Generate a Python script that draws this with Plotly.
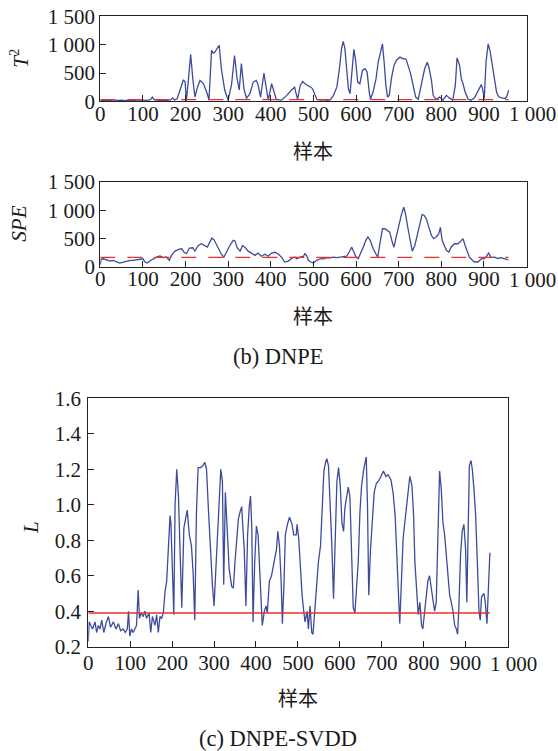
import plotly.graph_objects as go

# ---------------- data ----------------
t2_x = [0, 10, 20, 30, 40, 50, 60, 70, 80, 90, 100, 110, 118, 122, 126, 135, 145, 155, 165, 170, 174, 180,
        187, 195, 199, 202, 207, 212, 217, 222, 228, 234, 242, 251, 255, 258, 261, 265, 269, 273, 277, 279,
        284, 292, 300, 308, 315, 321, 326, 331, 337, 343, 351, 359, 366, 370, 376, 384, 388, 394, 402, 407,
        413, 425, 437, 448, 456, 459, 463, 469, 475, 480, 488, 494, 498, 502, 508, 516, 525, 532, 539, 547,
        555, 561, 566, 570, 574, 578, 582, 586, 590, 595, 599, 604, 609, 615, 621, 626, 631, 634, 640, 647,
        652, 658, 662, 666, 670, 674, 678, 683, 689, 695, 703, 711, 717, 722, 728, 734, 740, 746, 753, 761,
        767, 771, 777, 781, 788, 796, 804, 812, 819, 827, 833, 837, 843, 847, 851, 856, 863, 870, 878, 886,
        894, 897, 901, 905, 910, 915, 921, 925, 930, 935, 941, 950, 954, 958]
t2_y = [15, 20, 10, 25, 15, 20, 10, 20, 15, 25, 20, 15, 30, 75, 30, 15, 20, 15, 25, 60, 25, 40,
        195, 380, 340, 10, 400, 830, 400, 75, 250, 370, 310, 135, 20, 400, 900, 850, 870, 920, 960, 990,
        575, 195, 20, 300, 810, 400, 200, 665, 225, 50, 135, 340, 370, 300, 75, 500, 300, 20, 310, 195,
        35, 20, 100, 195, 250, 150, 35, 280, 350, 310, 280, 250, 220, 135, 35, 20, 30, 15, 25, 105,
        250, 575, 930, 1060, 930, 575, 225, 135, 520, 920, 725, 340, 310, 545, 575, 520, 165, 35, 165, 400,
        690, 900, 1015, 690, 280, 75, 105, 400, 635, 725, 780, 750, 750, 635, 490, 280, 75, 35, 310, 575,
        690, 605, 370, 105, 35, 75, 20, 105, 60, 20, 280, 765, 635, 400, 310, 165, 35, 20, 60, 165,
        295, 220, 50, 690, 1015, 870, 575, 400, 150, 80, 60, 50, 90, 195]
t2_limit = 30

spe_x = [0, 2, 7, 15, 23, 30, 38, 46, 54, 62, 70, 77, 85, 93, 100, 105, 110, 116, 124, 132, 140, 148,
         155, 162, 167, 175, 183, 191, 196, 202, 209, 217, 222, 230, 237, 246, 251, 257, 262, 267, 273, 279,
         284, 290, 296, 304, 312, 316, 321, 328, 334, 339, 347, 355, 363, 370, 378, 386, 394, 402, 410, 418,
         425, 433, 441, 448, 456, 461, 469, 477, 480, 484, 488, 494, 500, 508, 516, 523, 531, 539, 547, 555,
         562, 570, 578, 584, 590, 595, 600, 605, 611, 617, 623, 628, 634, 640, 647, 651, 656, 662, 668, 673,
         679, 685, 689, 695, 701, 706, 712, 716, 722, 727, 732, 738, 744, 749, 755, 760, 765, 771, 777, 782,
         788, 794, 798, 802, 808, 812, 818, 823, 831, 839, 844, 851, 856, 861, 866, 873, 878, 886, 894, 900,
         905, 911, 917, 925, 933, 940, 948, 955, 958]
spe_y = [40, 140, 145, 118, 105, 118, 88, 70, 88, 105, 118, 118, 130, 140, 145, 88, 70, 105, 145, 175, 195, 165,
         175, 118, 205, 280, 305, 325, 265, 235, 335, 340, 280, 380, 410, 380, 350, 440, 510, 480, 380, 295,
         225, 175, 265, 380, 470, 460, 340, 280, 380, 350, 280, 235, 205, 245, 190, 225, 190, 245, 260, 225,
         175, 88, 105, 145, 175, 145, 175, 190, 235, 205, 118, 88, 70, 118, 145, 145, 160, 160, 175, 165,
         175, 190, 190, 265, 350, 265, 175, 145, 235, 350, 470, 530, 460, 325, 225, 175, 410, 675, 675, 645,
         615, 440, 350, 555, 760, 910, 1055, 940, 675, 440, 280, 380, 555, 730, 925, 910, 850, 700, 555, 500,
         530, 585, 700, 470, 380, 295, 265, 350, 410, 410, 440, 500, 380, 265, 175, 118, 88, 88, 145, 145,
         175, 245, 165, 175, 150, 165, 140, 130, 125]
spe_limit = 170

l_x = [0, 2, 6, 10, 16, 20, 24, 28, 32, 37, 42, 48, 53, 60, 66, 72, 77, 83, 88, 93, 96, 99, 103, 107, 111,
       115, 119, 122, 126, 131, 135, 139, 145, 149, 153, 159, 163, 167, 171, 175, 179, 183, 187, 191, 195,
       197, 201, 204, 207, 211, 215, 219, 223, 228, 233, 236, 241, 246, 250, 254, 258, 262, 268, 273, 278,
       282, 286, 292, 296, 300, 306, 312, 316, 320, 323, 327, 331, 336, 342, 346, 350, 354, 358, 362, 366,
       368, 372, 376, 380, 384, 387, 390, 393, 397, 401, 405, 409, 413, 415, 420, 424, 427, 432, 437, 443,
       449, 452, 456, 460, 463, 467, 470, 475, 480, 486, 490, 496, 498, 502, 506, 510, 514, 517, 522, 525,
       529, 533, 536, 540, 544, 549, 554, 558, 562, 566, 569, 573, 577, 581, 585, 589, 593, 597, 601, 605,
       609, 612, 616, 620, 624, 628, 632, 636, 640, 644, 648, 652, 657, 661, 663, 666, 669, 673, 677, 682,
       687, 694, 700, 704, 710, 715, 722, 727, 732, 736, 740, 743, 747, 751, 755, 759, 763, 767, 772, 776,
       779, 784, 787, 791, 795, 798, 802, 806, 810, 814, 818, 822, 826, 830, 834, 838, 842, 846, 850, 854,
       858, 862, 866, 870, 874, 878, 881, 884, 888, 892, 896, 900, 903, 906, 909, 913, 916, 920, 924, 928,
       932, 935, 938, 944, 947, 951, 955, 958]
l_y = [0.23, 0.34, 0.32, 0.30, 0.34, 0.28, 0.32, 0.30, 0.35, 0.28, 0.33, 0.37, 0.31, 0.34, 0.30, 0.33, 0.29,
       0.30, 0.28, 0.30, 0.40, 0.26, 0.30, 0.28, 0.30, 0.32, 0.52, 0.36, 0.39, 0.37, 0.40, 0.36, 0.39, 0.28,
       0.37, 0.32, 0.38, 0.28, 0.37, 0.36, 0.39, 0.51, 0.57, 0.77, 0.94, 0.90, 0.59, 0.38, 1.00, 1.20, 1.05,
       0.68, 0.42, 0.87, 0.94, 0.97, 0.83, 0.77, 0.62, 0.35, 0.96, 1.21, 1.21, 1.22, 1.24, 1.20, 1.00, 0.68,
       0.55, 0.43, 0.72, 1.05, 1.20, 1.13, 0.55, 1.07, 0.87, 0.64, 0.54, 0.53, 0.68, 0.79, 0.92, 0.96, 0.99,
       0.90, 0.75, 0.43, 0.83, 0.99, 1.05, 0.87, 0.34, 0.68, 0.88, 0.83, 0.59, 0.45, 0.32, 0.40, 0.43, 0.39,
       0.57, 0.60, 0.68, 0.75, 0.85, 0.77, 0.57, 0.33, 0.57, 0.83, 0.89, 0.93, 0.89, 0.83, 0.83, 0.89, 0.81,
       0.64, 0.49, 0.40, 0.34, 0.40, 0.30, 0.43, 0.28, 0.27, 0.40, 0.49, 0.68, 0.77, 0.96, 1.19, 1.24, 1.26,
       1.22, 1.02, 0.77, 0.47, 0.87, 1.13, 1.21, 1.11, 0.90, 0.85, 0.98, 1.05, 1.10, 1.05, 0.68, 0.42, 0.39,
       0.53, 0.68, 0.96, 1.11, 1.20, 1.25, 1.27, 1.00, 0.49, 0.74, 0.87, 1.07, 1.12, 1.14, 1.17, 1.19, 1.16,
       1.17, 1.14, 1.07, 0.94, 0.75, 0.49, 0.33, 0.60, 0.81, 0.90, 1.00, 1.09, 1.16, 1.11, 0.94, 0.68, 0.47,
       0.38, 0.45, 0.32, 0.30, 0.38, 0.47, 0.57, 0.60, 0.53, 0.45, 0.40, 0.45, 0.83, 1.19, 1.09, 0.90, 0.83,
       0.72, 0.60, 0.49, 0.45, 0.40, 0.32, 0.30, 0.27, 0.42, 0.72, 0.85, 0.89, 0.75, 0.45, 0.87, 1.22, 1.25,
       1.20, 1.09, 0.94, 0.68, 0.40, 0.35, 0.48, 0.50, 0.45, 0.33, 0.54, 0.73]
l_limit = 0.39
limit_span = [0, 958]

x_ticks = [0, 100, 200, 300, 400, 500, 600, 700, 800, 900, 1000]
x_tick_text = ["0", "100", "200", "300", "400", "500", "600", "700", "800", "900", ""]
x_last_label = "1 000"
big_y_ticks = [0, 500, 1000, 1500]
big_y_text = ["0", "500", "1 000", "1 500"]
l_ticks = [0.2, 0.4, 0.6, 0.8, 1.0, 1.2, 1.4, 1.6]

# ---------------- styling ----------------
W, H = 558, 751
BLUE = "#3d4b9c"
RED = "#e8312c"
INK = "#1a1a1a"
FONT = "Liberation Serif, Times New Roman, Noto Sans CJK SC, serif"
CJK = "Noto Sans CJK SC, sans-serif"

def py(px):  # top pixel -> paper fraction
    return 1 - px / H

def pxx(px):
    return px / W

fig = go.Figure()

fig.add_trace(go.Scatter(x=t2_x, y=t2_y, mode="lines", line=dict(color=BLUE, width=1.3),
                         xaxis="x", yaxis="y", showlegend=False))
fig.add_trace(go.Scatter(x=limit_span, y=[t2_limit, t2_limit], mode="lines",
                         line=dict(color=RED, width=1.3, dash="15px,12px"),
                         xaxis="x", yaxis="y", showlegend=False))
fig.add_trace(go.Scatter(x=spe_x, y=spe_y, mode="lines", line=dict(color=BLUE, width=1.3),
                         xaxis="x2", yaxis="y2", showlegend=False))
fig.add_trace(go.Scatter(x=limit_span, y=[spe_limit, spe_limit], mode="lines",
                         line=dict(color=RED, width=1.3, dash="15px,12px"),
                         xaxis="x2", yaxis="y2", showlegend=False))
fig.add_trace(go.Scatter(x=l_x, y=l_y, mode="lines", line=dict(color=BLUE, width=1.3),
                         xaxis="x3", yaxis="y3", showlegend=False))
fig.add_trace(go.Scatter(x=limit_span, y=[l_limit, l_limit], mode="lines",
                         line=dict(color=RED, width=1.3),
                         xaxis="x3", yaxis="y3", showlegend=False))

common_axis = dict(showline=True, linecolor="#222222", linewidth=1.2, mirror=True,
                   showgrid=False, zeroline=False, ticks="inside", ticklen=6,
                   tickcolor="#222222", tickwidth=1, automargin=False, tickangle=0,
                   tickfont=dict(family=FONT, size=21, color=INK))

d12 = [pxx(100.3), pxx(526.5)]
d3 = [pxx(88.3), pxx(507.5)]

dom1 = [py(101.3), py(16.4)]
dom2 = [py(267.0), py(182.0)]
dom3 = [py(646.7), py(398.4)]

fig.update_layout(
    template="none",
    width=W, height=H,
    margin=dict(l=0, r=0, t=0, b=0),
    paper_bgcolor="white", plot_bgcolor="white",
    xaxis=dict(common_axis, domain=d12, range=[0, 1000], tickvals=x_ticks, ticktext=x_tick_text,
               anchor="y", ticklabelstandoff=-7),
    yaxis=dict(common_axis, domain=dom1, range=[0, 1500], tickvals=big_y_ticks,
               ticktext=big_y_text, anchor="x"),
    xaxis2=dict(common_axis, domain=d12, range=[0, 1000], tickvals=x_ticks, ticktext=x_tick_text,
                anchor="y2", ticklabelstandoff=-7),
    yaxis2=dict(common_axis, domain=dom2, range=[0, 1500], tickvals=big_y_ticks,
                ticktext=big_y_text, anchor="x2"),
    xaxis3=dict(common_axis, domain=d3, range=[0, 1000], tickvals=x_ticks, ticktext=x_tick_text,
                anchor="y3", ticklabelstandoff=-3),
    yaxis3=dict(common_axis, domain=dom3, range=[0.2, 1.6], tickvals=l_ticks,
                tickformat=".1f", anchor="x3", ticklabelstandoff=2),
)

ann = []
def add_text(text, x, y, size, family=FONT, angle=0):
    ann.append(dict(text=text, x=pxx(x), y=py(y), xref="paper", yref="paper", showarrow=False,
                    xanchor="center", yanchor="middle", textangle=angle,
                    font=dict(family=family, size=size, color=INK)))

# last x tick label, set a little to the right of its tick as in the reference
for xr, dom, gap in (("x", dom1, 13), ("x2", dom2, 13), ("x3", dom3, 17)):
    ann.append(dict(text=x_last_label, x=x_ticks[-1], xref=xr, y=dom[0], yref="paper",
                    xshift=5.5, yshift=-gap, xanchor="center", yanchor="middle", showarrow=False,
                    font=dict(family=FONT, size=21, color=INK)))

add_text("<i>T</i><sup>2</sup>", 18.7, 58, 21, angle=-90)
add_text("<i>SPE</i>", 18.7, 224, 21, angle=-90)
add_text("<i>L</i>", 31, 528, 21, angle=-90)
add_text("样本", 313.4, 151, 20, family=CJK)
add_text("样本", 313.4, 315, 20, family=CJK)
add_text("样本", 298, 697, 20, family=CJK)
add_text("(b) DNPE", 278.5, 356, 22.5)
add_text("(c) DNPE-SVDD", 278, 738, 22.5)
fig.update_layout(annotations=ann)

fig.write_html("out.html", config={"displayModeBar": False},
               post_script="document.body.style.margin='0px';")
